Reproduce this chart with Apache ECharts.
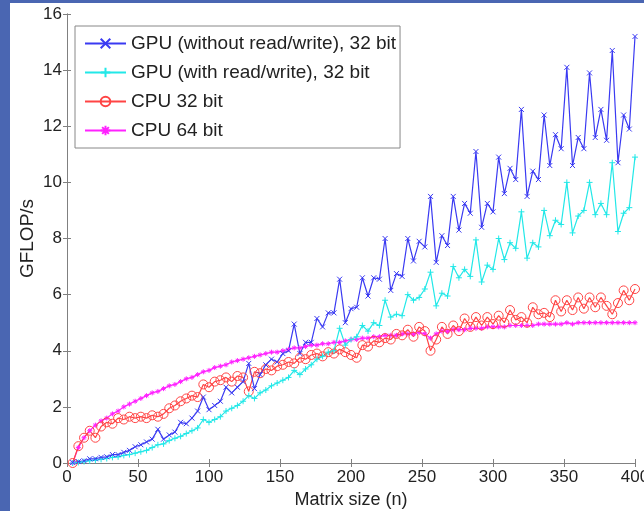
<!DOCTYPE html>
<html>
<head>
<meta charset="utf-8">
<script src="https://cdn.jsdelivr.net/npm/echarts@6/dist/echarts.min.js"></script>
<style>
  html, body { margin: 0; padding: 0; background: #4a66b2; }
  #echarts { position: absolute; left: 10px; top: 3px; width: 634px; height: 508px; background: #fff; }
</style>
</head>
<body>
<div id="echarts"></div>
<script>
// 矩阵大小 (x)
var matrixSize = [4,8,12,16,20,24,28,32,36,40,44,48,52,56,60,64,68,72,76,80,
  84,88,92,96,100,104,108,112,116,120,124,128,132,136,140,144,148,152,156,160,
  164,168,172,176,180,184,188,192,196,200,204,208,212,216,220,224,228,232,236,240,
  244,248,252,256,260,264,268,272,276,280,284,288,292,296,300,304,308,312,316,320,
  324,328,332,336,340,344,348,352,356,360,364,368,372,376,380,384,388,392,396,400];

var gpuNoRW = [0.02,0.05,0.08,0.15,0.15,0.2,0.22,0.3,0.3,0.38,0.45,0.58,0.65,0.75,0.85,1.2,0.85,1.0,1.1,1.45,
  1.4,1.6,1.85,2.35,1.9,2.05,2.2,2.7,2.5,2.7,2.9,3.55,2.65,3.15,3.5,3.7,3.6,3.9,4.0,4.95,
  3.9,4.3,4.3,5.15,4.85,5.35,5.35,6.55,5.0,5.5,5.55,6.6,5.95,6.6,6.55,8.0,6.15,6.75,6.65,8.0,
  7.2,7.9,7.7,9.5,7.15,8.1,7.75,9.5,8.3,9.25,8.9,11.1,8.4,9.25,8.95,10.9,9.6,10.5,10.1,12.6,
  9.5,10.4,10.1,12.4,10.6,11.7,11.2,14.1,10.6,11.6,11.2,13.9,11.6,12.6,11.5,14.7,10.7,12.4,11.9,15.2];

var gpuRW = [0.0,0.02,0.05,0.08,0.1,0.13,0.16,0.2,0.22,0.27,0.3,0.35,0.4,0.45,0.55,0.65,0.68,0.8,0.88,0.95,
  1.05,1.15,1.25,1.55,1.45,1.55,1.65,1.85,1.95,2.05,2.2,2.4,2.3,2.5,2.6,2.75,2.85,2.95,3.05,3.3,
  3.15,3.35,3.5,3.7,3.8,3.95,4.0,4.8,4.2,4.4,4.5,4.9,4.7,5.0,4.9,5.8,5.2,5.3,5.25,6.0,
  5.8,5.9,6.2,6.8,5.6,6.05,5.95,7.0,6.6,6.9,6.65,7.95,6.45,7.05,6.9,8.0,7.25,7.85,7.65,8.95,
  7.3,7.85,7.7,9.0,8.1,8.65,8.5,10.0,8.2,8.8,9.0,10.0,8.85,9.25,8.85,10.7,8.25,8.9,9.1,10.9];

var cpu32 = [0.0,0.6,0.9,1.15,0.9,1.3,1.45,1.4,1.6,1.55,1.65,1.6,1.65,1.6,1.7,1.65,1.75,1.95,2.05,2.2,
  2.3,2.4,2.35,2.8,2.7,2.9,2.95,3.05,2.9,3.1,3.05,2.55,3.25,3.2,3.35,3.3,3.45,3.5,3.6,3.55,
  3.75,3.7,3.85,3.9,3.8,3.95,3.9,4.05,3.95,3.85,3.75,4.2,4.15,4.35,4.3,4.45,4.4,4.6,4.55,4.75,
  4.5,4.85,4.7,4.0,4.4,4.85,4.6,4.9,4.7,5.15,4.85,5.2,4.9,5.2,4.95,5.25,5.0,5.45,5.1,5.2,
  5.0,5.55,5.3,5.35,5.2,5.8,5.4,5.8,5.45,5.9,5.5,5.9,5.55,5.9,5.6,5.3,5.7,6.15,5.8,6.2];

var cpu64 = [0.0,0.55,0.9,1.15,1.35,1.5,1.6,1.75,1.85,2.0,2.1,2.2,2.3,2.4,2.5,2.55,2.65,2.75,2.8,2.9,
  3.0,3.05,3.15,3.25,3.3,3.4,3.45,3.5,3.6,3.65,3.7,3.75,3.8,3.85,3.9,3.95,3.95,4.0,4.05,4.1,
  4.1,4.15,4.2,4.2,4.25,4.25,4.3,4.3,4.35,4.4,4.4,4.45,4.45,4.5,4.5,4.55,4.55,4.55,4.6,4.6,
  4.6,4.65,4.6,4.45,4.6,4.7,4.7,4.75,4.75,4.75,4.8,4.8,4.8,4.85,4.85,4.85,4.85,4.9,4.9,4.9,
  4.9,4.9,4.95,4.95,4.95,4.95,4.95,5.0,4.95,5.0,5.0,5.0,5.0,5.0,5.0,5.0,5.0,5.0,5.0,5.0];

var xTicks = { min: 0, max: 400, interval: 50 };
var yTicks = { min: 0, max: 16, interval: 2 };

function pairs(ys){
  var out = [];
  for (var i = 0; i < matrixSize.length; i++) out.push([matrixSize[i], ys[i]]);
  return out;
}

var symX = 'path://M0,0L10,10M10,0L0,10';
var symPlus = 'path://M5,0L5,10M0,5L10,5';
var symStar = 'path://M5,0L5,10M0,5L10,5M1.5,1.5L8.5,8.5M8.5,1.5L1.5,8.5';

var axisGray = '#808080';
var font = 'Liberation Sans, Arial, sans-serif';

function lineSeries(name, ys, color, symbol, size, fill){
  return {
    name: name,
    type: 'line',
    data: pairs(ys),
    symbol: symbol,
    symbolSize: size,
    showAllSymbol: true,
    lineStyle: { color: color, width: 1.2 },
    itemStyle: { color: fill, borderColor: color, borderWidth: 1 },
    emphasis: { disabled: true },
    animation: false
  };
}

var option = {
  animation: false,
  textStyle: { fontFamily: font },
  grid: { left: 57, top: 11, right: 9, bottom: 48, outerBoundsMode: 'none', containLabel: false },
  legend: {
    left: 65, top: 23,
    orient: 'vertical',
    itemWidth: 41, itemHeight: 12,
    itemGap: 10,
    padding: [8, 4, 8, 9],
    backgroundColor: '#fff',
    borderColor: '#888', borderWidth: 1,
    textStyle: { fontSize: 19, lineHeight: 19, color: '#222', fontFamily: font },
    data: ['GPU (without read/write), 32 bit', 'GPU (with read/write), 32 bit', 'CPU 32 bit', 'CPU 64 bit']
  },
  xAxis: [{
    type: 'value', min: xTicks.min, max: xTicks.max, interval: xTicks.interval,
    name: 'Matrix size (n)', nameLocation: 'middle', nameGap: 25,
    nameTextStyle: { fontSize: 18, color: '#222' },
    axisLine: { lineStyle: { color: axisGray } },
    axisTick: { inside: true, length: 4, lineStyle: { color: axisGray } },
    axisLabel: { fontSize: 17, color: '#222', margin: 6 },
    splitLine: { show: false }
  }, {
    type: 'value', position: 'top', min: xTicks.min, max: xTicks.max, interval: xTicks.interval,
    axisLine: { lineStyle: { color: axisGray } },
    axisTick: { inside: true, length: 4, lineStyle: { color: axisGray } },
    axisLabel: { show: false },
    splitLine: { show: false }
  }],
  yAxis: [{
    type: 'value', min: yTicks.min, max: yTicks.max, interval: yTicks.interval,
    name: 'GFLOP/s', nameLocation: 'middle', nameGap: 30, nameMoveOverlap: false,
    nameTextStyle: { fontSize: 19, color: '#222' },
    axisLine: { show: true, lineStyle: { color: axisGray } },
    axisTick: { show: true, inside: true, length: 4, lineStyle: { color: axisGray } },
    axisLabel: { fontSize: 17, color: '#222', margin: 5 },
    splitLine: { show: false }
  }, {
    type: 'value', position: 'right', min: yTicks.min, max: yTicks.max, interval: yTicks.interval,
    axisLine: { show: true, lineStyle: { color: axisGray } },
    axisTick: { show: true, inside: true, length: 4, lineStyle: { color: axisGray } },
    axisLabel: { show: false },
    splitLine: { show: false }
  }],
  series: [
    lineSeries('CPU 64 bit', cpu64, '#ff22ff', symStar, 5, '#ff22ff'),
    lineSeries('CPU 32 bit', cpu32, '#ff4444', 'circle', 9, 'rgba(0,0,0,0)'),
    lineSeries('GPU (with read/write), 32 bit', gpuRW, '#22e8e8', symPlus, 6, '#22e8e8'),
    lineSeries('GPU (without read/write), 32 bit', gpuNoRW, '#3a3af2', symX, 5, '#3a3af2')
  ]
};

var chart = echarts.init(document.getElementById('echarts'));
chart.setOption(option);
</script>
</body>
</html>
